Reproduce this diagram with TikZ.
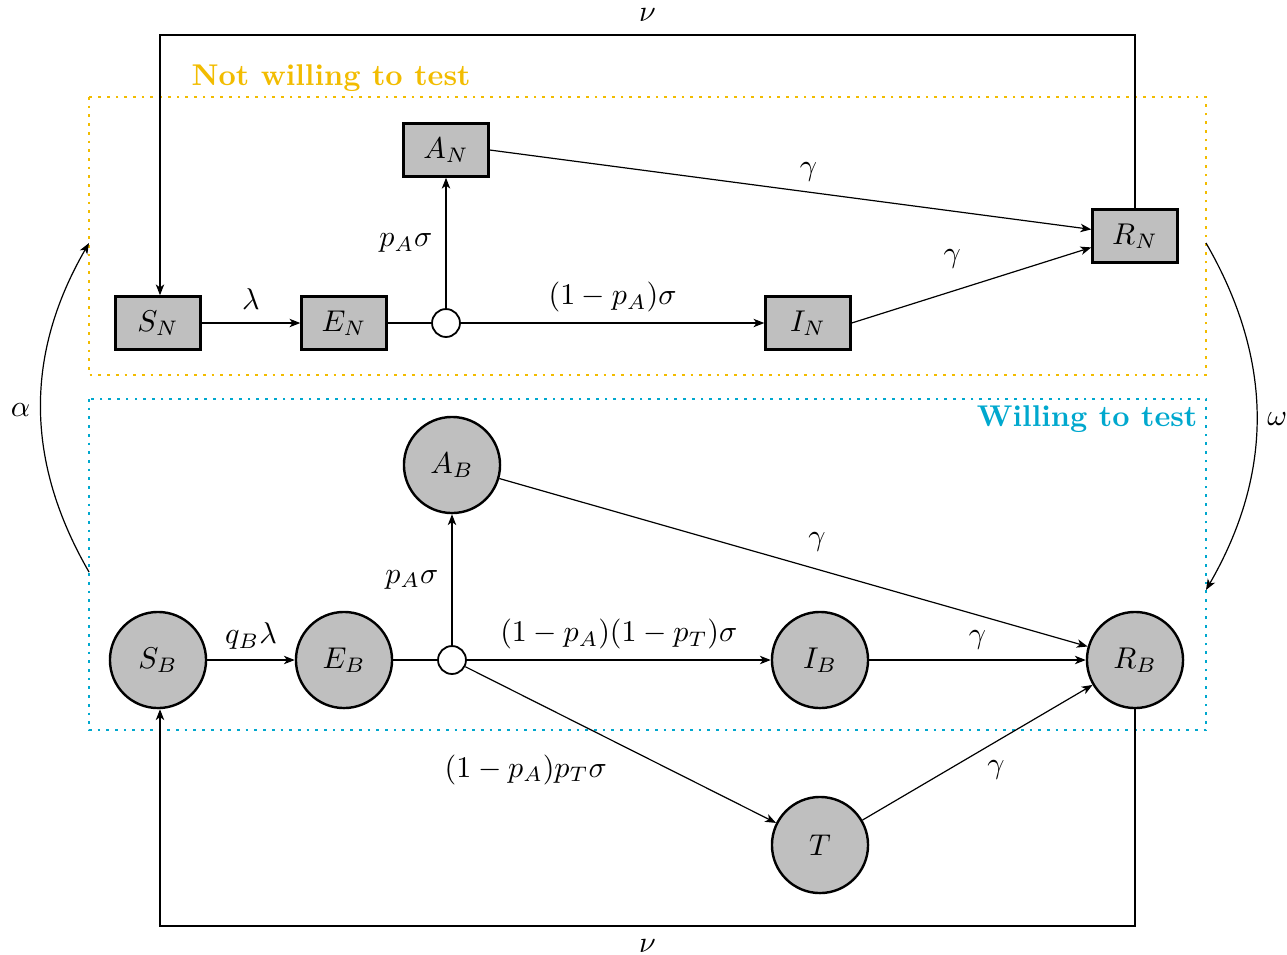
\documentclass[tikz,border=0pt]{standalone}
\usetikzlibrary{arrows.meta,positioning}
\definecolor{yel}{RGB}{242,188,0}
\definecolor{cy}{RGB}{0,168,206}
\begin{document}
\begin{tikzpicture}[x=0.333pt,y=-0.333pt,
  box/.style={draw,thick,fill=lightgray,minimum width=28.3pt,minimum height=17.7pt,inner sep=0pt},
  circ/.style={circle,draw,thick,fill=lightgray,minimum size=32pt,inner sep=0pt},
  junc/.style={circle,draw,semithick,fill=white,minimum size=9.3pt,inner sep=0pt},
  arr/.style={-{Stealth[length=3.6pt,width=2.8pt,inset=1pt]}},
  zone/.style={line width=0.9pt,dotted}]
\useasboundingbox (0,0) rectangle (1287,954);
% zones
\draw[zone,yel] (89,97) rectangle (1206,375);
\draw[zone,cy] (89,399) rectangle (1206,730);
\node[yel,font=\bfseries,anchor=west] (tN) at (181,78) {Not willing to test};
\node[cy,font=\bfseries,anchor=east] (tB) at (1208,419) {Willing to test};
% top nodes
\node[box] (SN) at (158,323) {$S_N$};
\node[box] (EN) at (344,323) {$E_N$};
\node[junc] (jN) at (446,323) {};
\node[box] (AN) at (446,150) {$A_N$};
\node[box] (IN) at (808,323) {$I_N$};
\node[box] (RN) at (1135,236) {$R_N$};
% bottom nodes
\node[circ] (SB) at (158,660) {$S_B$};
\node[circ] (EB) at (344,660) {$E_B$};
\node[junc] (jB) at (452,660) {};
\node[circ] (AB) at (452,465) {$A_B$};
\node[circ] (IB) at (820,660) {$I_B$};
\node[circ] (RB) at (1135,660) {$R_B$};
\node[circ] (T) at (820,845) {$T$};
% top edges
\draw[arr] (SN) -- node[above=1pt] {$\lambda$} (EN);
\draw (EN) -- (jN);
\draw[arr] (jN) -- node[left=1pt] {$p_A\sigma$} (AN);
\draw[arr] (jN) -- node[above=0pt] {$(1-p_A)\sigma$} (IN);
\draw[arr] (AN.east) -- node[pos=0.53,above=0pt] {$\gamma$} ([yshift=2.2pt]RN.west);
\draw[arr] (IN.east) -- node[pos=0.42,above=4pt] {$\gamma$} ([yshift=-3.8pt]RN.west);
\coordinate (tR) at (1135,35);
\coordinate (tL) at (160,35);
\draw[arr] (RN.north) -- (tR) -- node[above=1pt] {$\nu$} (tL) -- (tL |- SN.north);
% bottom edges
\draw[arr] (SB) -- node[above=0pt] {$q_B\lambda$} (EB);
\draw (EB) -- (jB);
\draw[arr] (jB) -- node[left=1pt] {$p_A\sigma$} (AB);
\draw[arr] (jB) -- node[above=0pt] {$(1-p_A)(1-p_T)\sigma$} (IB);
\draw[arr] (jB) -- node[pos=0.5,xshift=-31.6pt,yshift=-8.3pt] {$(1-p_A)p_T\sigma$} (T);
\draw[arr] (AB) -- node[pos=0.54,above=2.5pt] {$\gamma$} (RB);
\draw[arr] (IB) -- node[above=0pt] {$\gamma$} (RB);
\draw[arr] (T) -- node[pos=0.55,xshift=2.3pt,yshift=-8pt] {$\gamma$} (RB);
\coordinate (bR) at (1135,926);
\coordinate (bL) at (160,926);
\draw[arr] (RB.south) -- (bR) -- node[below=1pt] {$\nu$} (bL) -- (bL |- SB.south);
% alpha / omega
\coordinate (a1) at (89,572);
\coordinate (a2) at (89,243);
\coordinate (w1) at (1206,243);
\coordinate (w2) at (1206,590);
\draw[arr] (a1) to[bend left=30] node[left=0pt,yshift=-1pt] {$\alpha$} (a2);
\draw[arr] (w1) to[bend left=30] node[right=0pt,yshift=-1pt] {$\omega$} (w2);
\end{tikzpicture}
\end{document}
